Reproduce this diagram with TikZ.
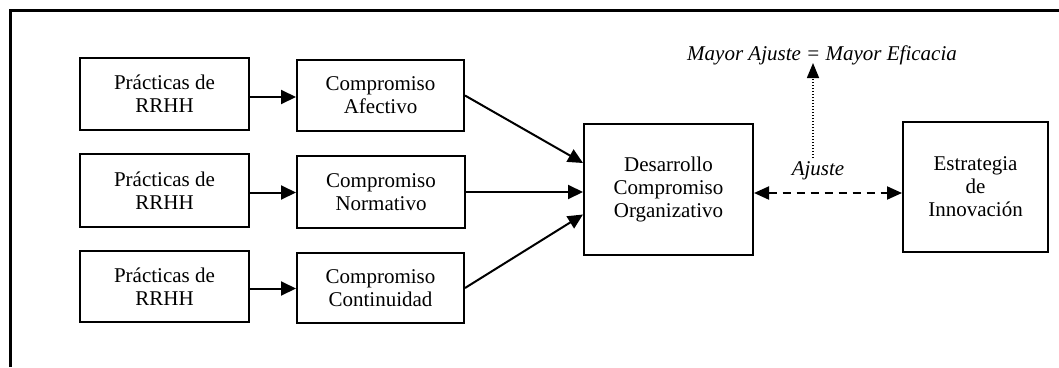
\documentclass[tikz,border=0pt]{standalone}
\usepackage{fontspec}
\setmainfont{Liberation Serif}
\usetikzlibrary{arrows.meta}
\begin{document}
\begin{tikzpicture}[x=1pt,y=-1pt,
  box/.style={draw,line width=2pt,inner sep=0pt,align=center,
    font=\fontsize{21}{23}\selectfont},
  arr/.style={line width=2pt,-{Triangle[length=15pt,width=14pt]}},
  lbl/.style={inner sep=0pt,font=\fontsize{21}{23}\selectfont\itshape}]
\useasboundingbox (0,0) rectangle (1059,367);
\draw[line width=3pt,line join=miter] (10,367) -- (10,10) -- (1059,10);
% left column
\node[box,minimum width=169pt,minimum height=72pt] (P1) at (164.5,94) {Prácticas de\\RRHH};
\node[box,minimum width=169pt,minimum height=73pt] (P2) at (164.5,190.5) {Prácticas de\\RRHH};
\node[box,minimum width=169pt,minimum height=71pt] (P3) at (164.5,286.5) {Prácticas de\\RRHH};
% second column
\node[box,minimum width=167pt,minimum height=71pt] (A) at (380.5,95.5) {Compromiso\\Afectivo};
\node[box,minimum width=168pt,minimum height=72pt] (N) at (381,192) {Compromiso\\Normativo};
\node[box,minimum width=167pt,minimum height=70pt] (C) at (380.5,288) {Compromiso\\Continuidad};
% central
\node[box,minimum width=169pt,minimum height=131pt] (D) at (668.5,189.5) {Desarrollo\\Compromiso\\Organizativo};
\node[box,minimum width=145pt,minimum height=130pt] (E) at (975.5,187) {Estrategia\\de\\Innovación};
% labels
\node[lbl] (M) at (822,55) {Mayor Ajuste = Mayor Eficacia};
\node[lbl] (AJ) at (818,171) {Ajuste};
\coordinate (dtop) at (813,63);
\coordinate (dbot) at (813,158);
% arrows
\draw[arr] ([yshift=-3pt]P1.east) -- ([yshift=-3pt]P1.east -| A.west);
\draw[arr] ([yshift=-2pt]P2.east) -- ([yshift=-2pt]P2.east -| N.west);
\draw[arr] ([yshift=-2pt]P3.east) -- ([yshift=-2pt]P3.east -| C.west);
\draw[arr] (A.east) -- ([yshift=26.5pt]D.west);
\draw[arr] (N.east) -- (N.east -| D.west);
\draw[arr] (C.east) -- ([yshift=-25pt]D.west);
\draw[line width=2pt,dash pattern=on 8pt off 6pt,{Triangle[length=15pt,width=13pt]}-{Triangle[length=15pt,width=13pt]}] ([yshift=-3.5pt]D.east) -- ([yshift=-3.5pt]D.east -| E.west);
\draw[line width=1.5pt,dash pattern=on 1.5pt off 1.5pt,-{Triangle[length=15pt,width=12pt]}] (dbot) -- (dtop);
\end{tikzpicture}
\end{document}
